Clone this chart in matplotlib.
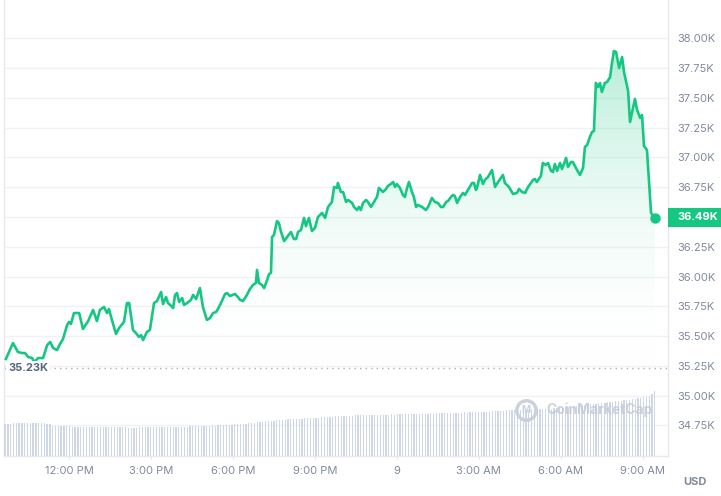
import matplotlib.pyplot as plt
import matplotlib.ticker as mticker
from matplotlib.colors import LinearSegmentedColormap
from matplotlib.patches import Rectangle
from matplotlib.lines import Line2D
import numpy as np

plt.rcParams['font.family'] = ['Inter', 'DejaVu Sans']

# hours since midnight of the first day (24 = midnight -> "9")
times = [
    9.69, 9.95, 10.13, 10.28, 10.39, 10.50, 10.65, 10.72, 10.87, 11.05,
    11.20, 11.31, 11.42, 11.56, 11.67, 11.78, 11.93, 12.00, 12.07, 12.18,
    12.37, 12.51, 12.70, 12.88, 13.02, 13.13, 13.28, 13.39, 13.46, 13.57,
    13.72, 13.83, 14.01, 14.12, 14.20, 14.34, 14.45, 14.56, 14.64, 14.71,
    14.85, 14.96, 15.11, 15.22, 15.37, 15.44, 15.55, 15.62, 15.70, 15.81,
    15.88, 15.95, 16.03, 16.14, 16.21, 16.32, 16.46, 16.54, 16.65, 16.79,
    16.90, 17.01, 17.05, 17.16, 17.27, 17.38, 17.45, 17.56, 17.71, 17.78,
    17.89, 18.07, 18.18, 18.26, 18.37, 18.51, 18.62, 18.73, 18.84, 18.88,
    18.95, 19.06, 19.14, 19.25, 19.32, 19.39, 19.43, 19.50, 19.61, 19.68,
    19.76, 19.87, 19.98, 20.12, 20.23, 20.31, 20.38, 20.49, 20.60, 20.67,
    20.78, 20.89, 21.00, 21.11, 21.26, 21.37, 21.48, 21.62, 21.70, 21.81,
    21.84, 21.95, 22.03, 22.14, 22.21, 22.36, 22.43, 22.54, 22.61, 22.68,
    22.76, 22.87, 22.94, 23.05, 23.16, 23.27, 23.34, 23.49, 23.60, 23.67,
    23.78, 23.86, 23.93, 24.00, 24.11, 24.22, 24.29, 24.37, 24.44, 24.55,
    24.62, 24.70, 24.77, 24.92, 25.06, 25.14, 25.28, 25.39, 25.50, 25.61,
    25.69, 25.80, 25.87, 25.98, 26.05, 26.12, 26.20, 26.31, 26.42, 26.49,
    26.60, 26.75, 26.82, 26.89, 26.93, 27.04, 27.15, 27.22, 27.33, 27.48,
    27.59, 27.70, 27.88, 27.95, 28.10, 28.25, 28.39, 28.47, 28.58, 28.69,
    28.80, 28.98, 29.05, 29.12, 29.27, 29.34, 29.45, 29.53, 29.64, 29.71,
    29.78, 29.86, 29.97, 30.04, 30.11, 30.19, 30.26, 30.37, 30.44, 30.59,
    30.70, 30.81, 30.88, 30.96, 31.06, 31.14, 31.21, 31.28, 31.36, 31.43,
    31.50, 31.61, 31.69, 31.80, 31.87, 31.94, 32.02, 32.13, 32.24, 32.31,
    32.46, 32.53, 32.64, 32.71, 32.79, 32.90, 32.97, 33.04, 33.15, 33.30,
    33.44,
]
prices = [
    35307, 35441, 35366, 35357, 35357, 35324, 35315, 35282, 35315, 35315,
    35424, 35450, 35399, 35382, 35433, 35475, 35593, 35618, 35601, 35693,
    35693, 35559, 35626, 35719, 35626, 35719, 35744, 35693, 35727, 35635,
    35517, 35567, 35618, 35777, 35777, 35551, 35525, 35492, 35508, 35466,
    35534, 35551, 35777, 35794, 35870, 35769, 35828, 35777, 35761, 35735,
    35845, 35861, 35786, 35819, 35761, 35777, 35803, 35845, 35811, 35903,
    35744, 35660, 35635, 35651, 35693, 35702, 35727, 35777, 35853, 35861,
    35836, 35853, 35828, 35803, 35794, 35845, 35895, 35929, 35945, 36055,
    35945, 35929, 35903, 35971, 36021, 36030, 36332, 36349, 36466, 36450,
    36374, 36298, 36332, 36374, 36315, 36315, 36374, 36391, 36492, 36424,
    36492, 36382, 36408, 36500, 36534, 36492, 36584, 36626, 36752, 36744,
    36786, 36710, 36710, 36626, 36643, 36618, 36584, 36559, 36584, 36559,
    36618, 36643, 36626, 36584, 36626, 36668, 36744, 36710, 36735, 36761,
    36777, 36794, 36752, 36777, 36744, 36685, 36668, 36744, 36794, 36710,
    36668, 36584, 36601, 36584, 36559, 36584, 36660, 36626, 36618, 36584,
    36584, 36626, 36635, 36668, 36685, 36677, 36618, 36668, 36702, 36685,
    36727, 36786, 36786, 36727, 36744, 36853, 36777, 36811, 36836, 36895,
    36752, 36794, 36853, 36786, 36752, 36693, 36702, 36735, 36710, 36702,
    36752, 36811, 36819, 36794, 36845, 36954, 36937, 36954, 36887, 36878,
    36945, 36887, 36954, 36903, 36945, 36996, 36920, 36962, 36962, 36895,
    36853, 36912, 37088, 37105, 37172, 37214, 37223, 37626, 37592, 37626,
    37550, 37626, 37634, 37676, 37794, 37895, 37886, 37752, 37844, 37718,
    37559, 37298, 37416, 37492, 37399, 37332, 37357, 37097, 37063, 36534,
    36490,
]

# trading volume per bar, $M
vol_start = 9.66
vol_step = 0.1025
volumes = [
    320, 325, 320,
    330, 335, 330, 330, 335, 335, 330, 335, 330, 330, 335, 330,
    320, 318,
    300, 300, 302, 298, 300, 300, 296, 292,
    290, 288, 290, 290, 292, 290, 288, 290, 290, 290,
    290, 288, 290, 290, 292, 290, 290, 288, 290, 285,
    280, 282, 285, 290, 290, 292, 290, 290, 292, 290,
    290, 292, 290, 295, 292, 290, 292, 295, 292, 295,
    295, 298, 300, 298, 300, 302,
    300, 305, 305, 308, 305, 310, 308, 310, 312, 310, 315, 318,
    320, 322, 325, 322, 328, 330,
    335, 340, 342, 345, 350, 352, 355, 355, 360, 362, 362, 365,
    368, 370, 370, 372, 375, 375, 378, 380, 380, 382, 385, 385, 388, 390, 390, 392, 395,
    398, 400, 400, 402, 402, 405, 405, 408, 408, 410, 410, 410, 412,
    412, 410, 412, 415, 412, 415, 415, 418, 415, 418,
    418, 420, 418, 420, 422, 420, 422, 425, 422, 425,
    425, 428, 425, 428, 430, 428, 430, 432, 430, 432,
    435, 432, 435, 438, 435, 438, 440, 440, 442, 440,
    442, 445, 445, 448, 450, 452,
    455, 455, 458, 458, 460, 460, 462, 462, 465, 465, 465, 468, 468, 470, 470,
    472, 472, 475, 475, 478, 480,
    485, 488, 490, 492, 495, 498, 500, 505, 508, 510,
    515, 518, 520, 525, 528, 530, 535, 538, 540, 545,
    548, 552, 555, 558, 562, 565, 570, 575, 580, 585,
    590, 595, 605, 620, 650,
]

open_price = 35230
open_label = "35.23K"
last_label = "36.49K"

xtick_pos = [12, 15, 18, 21, 24, 27, 30, 33]
xtick_labels = ["12:00 PM", "3:00 PM", "6:00 PM", "9:00 PM", "9",
                "3:00 AM", "6:00 AM", "9:00 AM"]
ytick_vals = [34750, 35000, 35250, 35500, 35750, 36000, 36250, 36500,
              36750, 37000, 37250, 37500, 37750, 38000]

GREEN = '#16c784'
GRAY = '#808a9d'
DARK = '#58667e'
LIGHT = '#eff2f5'

fig = plt.figure(figsize=(7.21, 4.96), dpi=100)
ax = fig.add_axes([4 / 721, 40 / 496, 664 / 721, 456 / 496])

# gradient fill under the price line
fill = ax.fill_between(times, prices, open_price, color='none', lw=0)
cmap = LinearSegmentedColormap.from_list(
    'g', [(1, 1, 1, 0), (22 / 255, 199 / 255, 132 / 255, 0.34)])
grad = np.linspace(0, 1, 256).reshape(-1, 1)
img = ax.imshow(grad, extent=[times[0], times[-1], open_price, 38000],
                origin='lower', aspect='auto', cmap=cmap, zorder=1)
img.set_clip_path(fill.get_paths()[0], transform=ax.transData)

ax.plot(times, prices, color=GREEN, lw=1.9, zorder=3, solid_joinstyle='round')
ax.plot(times[-1], prices[-1], 'o', ms=6.5, color=GREEN, zorder=4)

ax.axhline(open_price, color='#a6b0c3', lw=1, linestyle=(0, (1, 3)), zorder=2)
ax.text(0.006, open_price, open_label, transform=ax.get_yaxis_transform(),
        fontsize=8, fontweight='bold', color=DARK, va='center', ha='left',
        zorder=5, bbox=dict(facecolor='white', edgecolor='none', pad=1.5))

ax.set_xlim(9.62, 33.92)
ax.set_ylim(34492, 38323)
ax.grid(axis='y', color=LIGHT, lw=1)
ax.set_axisbelow(True)
ax.spines['top'].set_visible(False)
for s in ['left', 'bottom', 'right']:
    ax.spines[s].set_color('#e6e9ee')
    ax.spines[s].set_linewidth(1)

# volume bars on their own scale
vax = ax.twinx()
vol_times = vol_start + vol_step * np.arange(len(volumes))
vax.bar(vol_times, volumes, width=0.045, color='#cfd6e4', lw=0)
vax.set_ylim(0, 4560)
vax.set_yticks([])
vax.tick_params(left=False, right=False, labelleft=False, labelright=False)
for s in vax.spines.values():
    s.set_visible(False)

# price ticks go on the right (set after twinx, which moves them left)
ax.set_xticks(xtick_pos)
ax.set_xticklabels(xtick_labels)
ax.set_yticks(ytick_vals)
ax.yaxis.set_major_formatter(mticker.FuncFormatter(
    lambda v, p: '' if abs(v - 36500) < 1 else f'{v / 1000:.2f}K'))
ax.yaxis.tick_right()
ax.tick_params(axis='y', left=False, labelleft=False, right=False,
               labelright=True, length=0, pad=6.5, labelsize=8,
               labelcolor=GRAY)
ax.tick_params(axis='x', length=2.5, width=0.8, color='#dfe3ea', pad=5,
               labelsize=8, labelcolor=GRAY)

# last price tag
fig.add_artist(Rectangle((668 / 721, (496 - 227) / 496), 53 / 721, 19 / 496,
                         transform=fig.transFigure, facecolor=GREEN,
                         edgecolor='none'))
fig.text(677 / 721, (496 - 217.5) / 496, last_label, color='white',
         fontsize=8, fontweight='bold', va='center', ha='left')

fig.text(683 / 721, (496 - 482) / 496, 'USD', color=GRAY, fontsize=8,
         fontweight='bold', va='center', ha='left')

# watermark
wm = '#c3cbd8'
fig.add_artist(Line2D([526 / 721], [(496 - 410) / 496], marker='o', ms=14,
                      mfc='none', mec=wm, mew=2.5, alpha=0.85,
                      transform=fig.transFigure))
fig.text(526 / 721, (496 - 410) / 496, 'M', color=wm, fontsize=7,
         fontweight='bold', va='center', ha='center', alpha=0.85)
fig.text(546 / 721, (496 - 410) / 496, 'CoinMarketCap', color=wm, fontsize=10,
         fontweight='bold', va='center', ha='left', alpha=0.85)

fig.savefig('out.png', dpi=100)
